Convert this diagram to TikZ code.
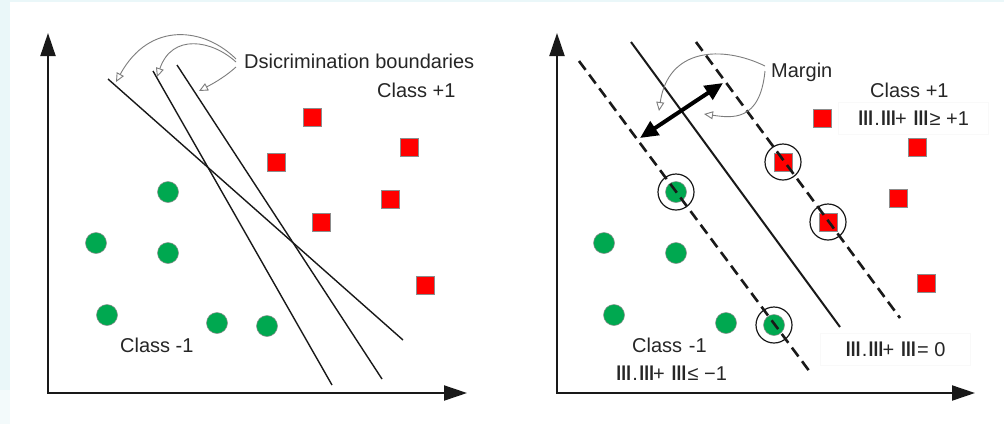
\documentclass[tikz,border=0pt]{standalone}
\usepackage{fontspec}
\setmainfont{Liberation Sans}
\newfontfamily\glyphfont{DejaVu Sans}
\usetikzlibrary{arrows.meta}
\definecolor{bgtint}{RGB}{234,247,249}
\definecolor{dotgreen}{RGB}{0,168,80}
\definecolor{boxred}{RGB}{255,0,0}
\definecolor{pointer}{RGB}{125,125,125}
\definecolor{ink}{RGB}{25,25,25}
\newcommand\gb{{\glyphfont\scalebox{1.25}[1]{Ⅲ}}}
\tikzset{
  axes/.style={line width=2pt, draw=ink,
    {Triangle[length=23pt,width=15pt]}-{Triangle[length=23pt,width=15pt]}},
  boundary/.style={line width=1.4pt, draw=ink},
  hyper/.style={line width=2pt, draw=ink},
  marginline/.style={line width=2.6pt, draw=ink, dash pattern=on 11pt off 6pt},
  pointer/.style={draw=pointer, line width=0.9pt,
    -{Triangle[open,length=9pt,width=8pt,fill=white]}},
  widthmark/.style={line width=4pt, draw=black,
    {Triangle[length=18pt,width=16pt]}-{Triangle[length=18pt,width=16pt]}},
  redsq/.style={rectangle, minimum size=18pt, inner sep=0pt, fill=boxred,
    draw=black!45, line width=0.5pt},
  greendot/.style={circle, minimum size=21pt, inner sep=0pt, fill=dotgreen,
    draw=black!45, line width=0.5pt},
  support/.style={circle, minimum size=36pt, inner sep=0pt, draw=ink, line width=1.2pt},
  lbl/.style={inner sep=0pt, font=\fontsize{20}{24}\selectfont, text=black!85},
  eqbox/.style={rectangle, draw=black!2.5, fill=white, line width=0.5pt,
    minimum height=32pt, minimum width=150pt, inner xsep=10pt,
    font=\fontsize{20}{24}\selectfont, text=black!85}
}
\begin{document}
\begin{tikzpicture}[x=1pt,y=-1pt]
  \useasboundingbox (0,0) rectangle (1004,424);
  % page background with the tinted edges
  \fill[white] (0,0) rectangle (1004,424);
  \fill[bgtint] (0,0) rectangle (10,390);
  \fill[bgtint!60] (0,390) rectangle (10,424);
  \fill[bgtint] (0,0) rectangle (1004,2);

  % ===================== left panel =====================
  \coordinate (L-ytip) at (48,33);
  \coordinate (L-o) at (48,393);
  \coordinate (L-xtip) at (467,393);
  \draw[axes] (L-ytip) -- (L-o) -- (L-xtip);

  \node[redsq] (L-r1) at (312,117) {};
  \node[redsq] (L-r2) at (409,147) {};
  \node[redsq] (L-r3) at (276,162) {};
  \node[redsq] (L-r4) at (390,199) {};
  \node[redsq] (L-r5) at (321,222) {};
  \node[redsq] (L-r6) at (425,285) {};

  \node[greendot] (L-g1) at (168,192) {};
  \node[greendot] (L-g2) at (96,243) {};
  \node[greendot] (L-g3) at (168,253) {};
  \node[greendot] (L-g4) at (107,315) {};
  \node[greendot] (L-g5) at (217,323) {};
  \node[greendot] (L-g6) at (267,326) {};

  % three candidate separating lines
  \coordinate (L-a1) at (108,79);  \coordinate (L-a2) at (403,340);
  \coordinate (L-b1) at (153,71);  \coordinate (L-b2) at (332,385);
  \coordinate (L-c1) at (177,65);  \coordinate (L-c2) at (382,379);
  \draw[boundary] (L-a1) -- (L-a2);
  \draw[boundary] (L-b1) -- (L-b2);
  \draw[boundary] (L-c1) -- (L-c2);

  \node[lbl, anchor=base west] (disc) at (244,68) {Dsicrimination boundaries};
  \node[lbl, anchor=base west] (L-plus) at (377,97) {Class +1};
  \node[lbl, anchor=base west] (L-minus) at (120,352) {Class -1};

  \coordinate (d1) at (236,59);
  \coordinate (d2) at (236,62);
  \coordinate (d3) at (236,67);
  \coordinate (t1) at (116,82);
  \coordinate (t2) at (157,77);
  \coordinate (t3) at (199,91);
  \draw[pointer] (d1) .. controls (205,28) and (150,20) .. (t1);
  \draw[pointer] (d2) .. controls (212,40) and (172,33) .. (t2);
  \draw[pointer] (d3) .. controls (226,76) and (216,82) .. (t3);

  % ===================== right panel =====================
  \coordinate (R-ytip) at (557,33);
  \coordinate (R-o) at (557,393);
  \coordinate (R-xtip) at (975,393);
  \draw[axes] (R-ytip) -- (R-o) -- (R-xtip);

  \node[redsq] (R-r1) at (822,118) {};
  \node[redsq] (R-r2) at (917,147) {};
  \node[redsq] (R-r3) at (783,162) {};
  \node[redsq] (R-r4) at (898,198) {};
  \node[redsq] (R-r5) at (828,222) {};
  \node[redsq] (R-r6) at (926,283) {};

  \node[greendot] (R-g1) at (676,192) {};
  \node[greendot] (R-g2) at (604,243) {};
  \node[greendot] (R-g3) at (676,253) {};
  \node[greendot] (R-g4) at (614,315) {};
  \node[greendot] (R-g5) at (726,323) {};
  \node[greendot] (R-g6) at (774,325) {};

  % support vectors
  \node[support] (sv1) at (R-g1) {};
  \node[support] (sv2) at (R-g6) {};
  \node[support] (sv3) at (R-r3) {};
  \node[support] (sv4) at (R-r5) {};

  % equation labels (white boxes)
  \node[eqbox, anchor=center] (eq-plus) at (913,118)
    {\gb.\gb\kern-2pt+ \gb≥ +1};
  \node[eqbox, anchor=center] (eq-zero) at (895,349)
    {\gb.\gb\kern-2pt+ \gb= 0};

  % optimal hyperplane and margin lines
  \coordinate (h1) at (631,42);  \coordinate (h2) at (840,327);
  \coordinate (m1) at (579,61);  \coordinate (m2) at (810,372);
  \coordinate (p1) at (696,42);  \coordinate (p2) at (900,318);
  \draw[hyper] (h1) -- (h2);
  \draw[marginline] (m1) -- (m2);
  \draw[marginline] (p1) -- (p2);

  % margin width
  \coordinate (w1) at (640,138);
  \coordinate (w2) at (723,83);
  \draw[widthmark] (w1) -- (w2);

  \node[lbl, anchor=base west] (margin) at (771,77) {Margin};
  \coordinate (ms1) at (765,66);
  \coordinate (ms2) at (765,71);
  \coordinate (mt1) at (659,111);
  \coordinate (mt2) at (704,114);
  \draw[pointer] (ms1) .. controls (722,45) and (668,48) .. (mt1);
  \draw[pointer] (ms2) .. controls (760,122) and (732,118) .. (mt2);

  \node[lbl, anchor=base west] (R-plus) at (870,97) {Class +1};
  \node[lbl, anchor=base west] (R-minus) at (632,352) {Class\,\,-1};
  \node[lbl, anchor=base west] (eq-minus) at (615,380)
    {\gb.\gb\kern-2pt+ \gb≤ −1};
\end{tikzpicture}
\end{document}
